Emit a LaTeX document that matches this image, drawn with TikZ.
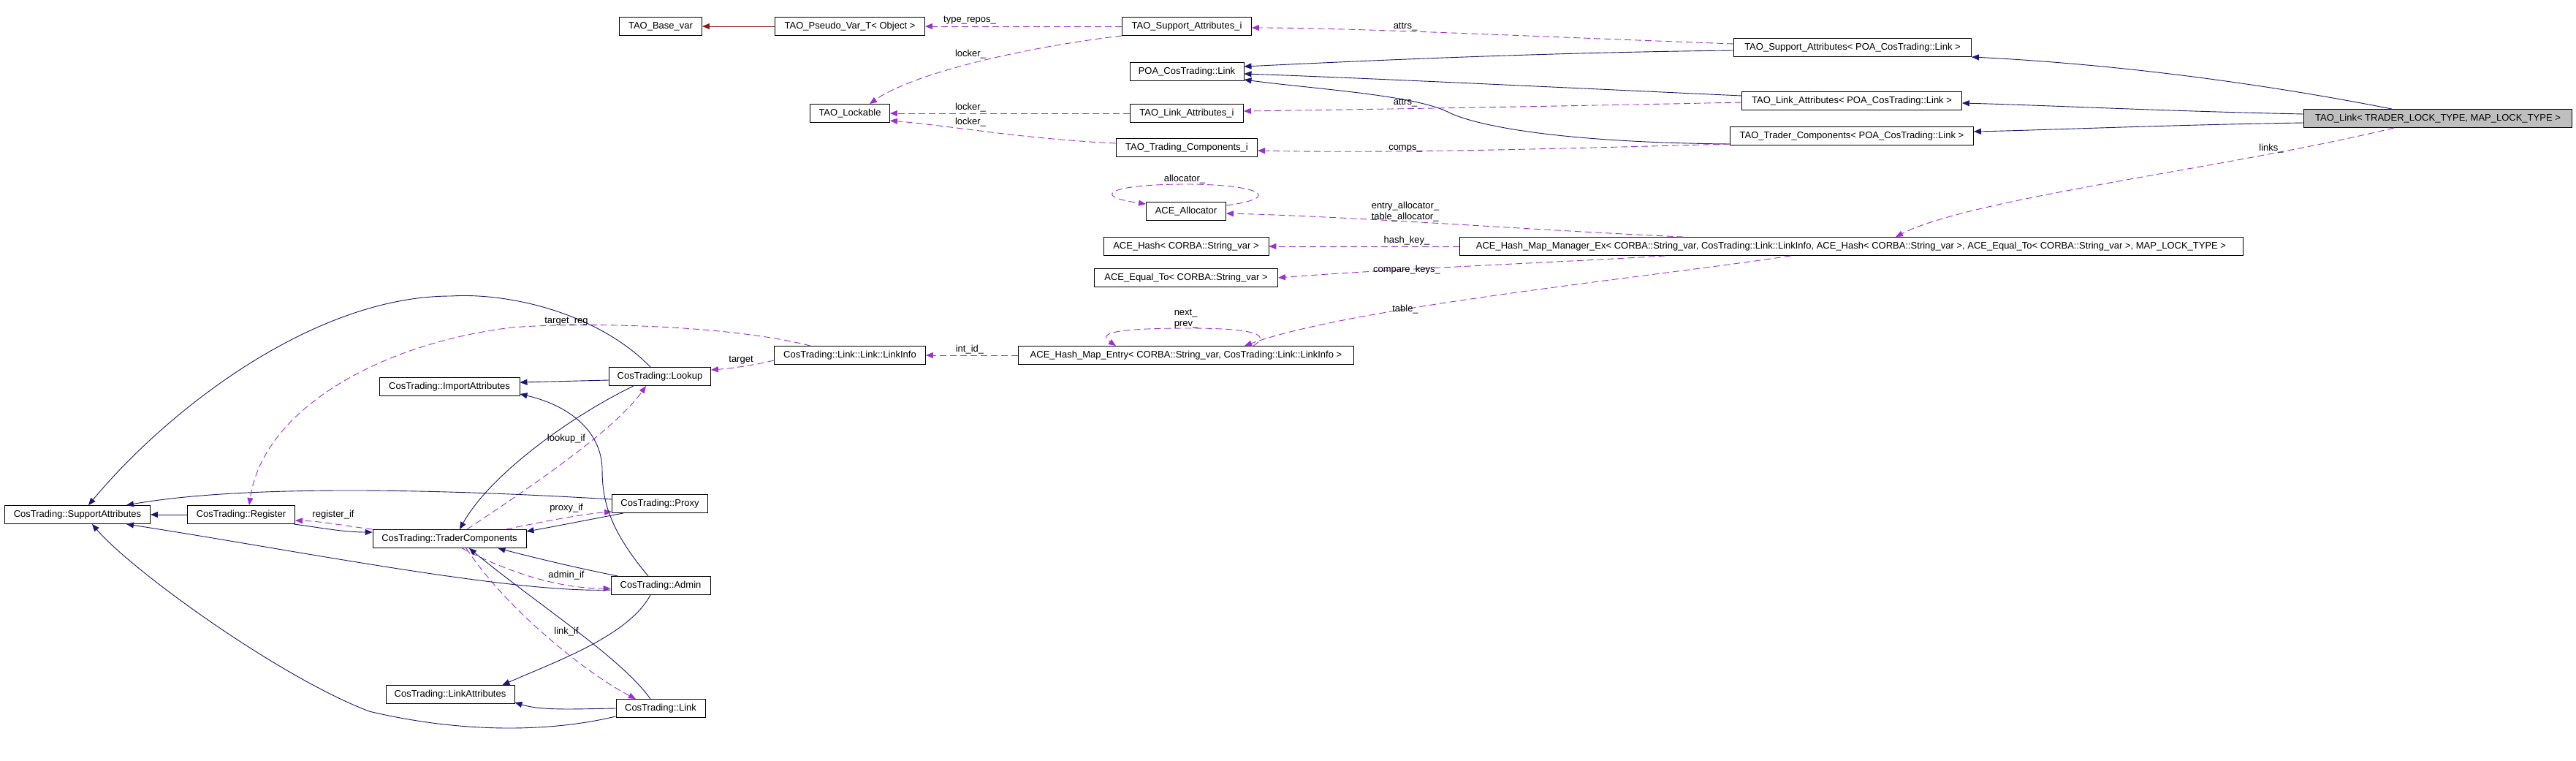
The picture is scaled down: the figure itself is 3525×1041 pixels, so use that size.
\documentclass[tikz,border=0pt]{standalone}
\usepackage{fontspec}
\setmainfont{Liberation Sans}
\usepackage{xcolor}
\usepackage{tikz}
\usetikzlibrary{arrows.meta, calc}

\definecolor{inhblue}{HTML}{191970}
\definecolor{usepurple}{HTML}{9A32CD}
\definecolor{privred}{HTML}{8B1A1A}
\definecolor{boxgray}{HTML}{BFBFBF}

\tikzset{
  cls/.style={draw=black, line width=0.9pt, inner xsep=0pt, inner ysep=0pt,
    minimum height=25pt, font=\fontsize{13}{15}\selectfont},
  inh/.style={inhblue, line width=0.9pt, -{Triangle[length=10pt,width=8pt]}},
  priv/.style={privred, line width=0.9pt, -{Triangle[length=10pt,width=8pt]}},
  use/.style={usepurple, line width=0.9pt, dash pattern=on 9pt off 5pt,
    -{Triangle[length=10pt,width=8pt]}},
  lbl/.style={font=\fontsize{13}{15}\selectfont, inner sep=0pt, align=left}
}

\begin{document}
\begin{tikzpicture}[x=1pt, y=-1pt]
    \fill[white] (0,0) rectangle (3525,1041);
    \useasboundingbox (0,0) rectangle (3525,1041);

    % TAO classes
    \node[cls, minimum width=113pt] (basevar) at (904,36) {TAO\_Base\_var};
    \node[cls, minimum width=205pt] (pseudovar) at (1163,36) {TAO\_Pseudo\_Var\_T< Object >};
    \node[cls, minimum width=177pt] (suppi) at (1624,36) {TAO\_Support\_Attributes\_i};
    \node[cls, minimum width=156pt] (poalink) at (1624,98) {POA\_CosTrading::Link};
    \node[cls, minimum width=109pt] (lockable) at (1163,155) {TAO\_Lockable};
    \node[cls, minimum width=155pt] (linki) at (1624,155) {TAO\_Link\_Attributes\_i};
    \node[cls, minimum width=193pt] (compi) at (1624,202) {TAO\_Trading\_Components\_i};
    \node[cls, minimum width=325pt] (suppt) at (2535,65) {TAO\_Support\_Attributes< POA\_CosTrading::Link >};
    \node[cls, minimum width=301pt] (linkt) at (2534,138) {TAO\_Link\_Attributes< POA\_CosTrading::Link >};
    \node[cls, minimum width=333pt] (compt) at (2534,186) {TAO\_Trader\_Components< POA\_CosTrading::Link >};
    \node[cls, fill=boxgray, minimum width=367pt] (taolink) at (3336,162) {TAO\_Link< TRADER\_LOCK\_TYPE, MAP\_LOCK\_TYPE >};

    % ACE classes
    \node[cls, minimum width=109pt] (alloc) at (1623,289) {ACE\_Allocator};
    \node[cls, minimum width=226pt] (hash) at (1623,337) {ACE\_Hash< CORBA::String\_var >};
    \node[cls, minimum width=251pt] (equal) at (1623,380) {ACE\_Equal\_To< CORBA::String\_var >};
    \node[cls, minimum width=459pt] (entry) at (1623,486) {ACE\_Hash\_Map\_Entry< CORBA::String\_var, CosTrading::Link::LinkInfo >};
    \node[cls, minimum width=1072pt] (hashmap) at (2533,337) {ACE\_Hash\_Map\_Manager\_Ex< CORBA::String\_var, CosTrading::Link::LinkInfo, ACE\_Hash< CORBA::String\_var >, ACE\_Equal\_To< CORBA::String\_var >, MAP\_LOCK\_TYPE >};

    % CosTrading classes
    \node[cls, minimum width=207pt] (linkinfo) at (1163,486) {CosTrading::Link::Link::LinkInfo};
    \node[cls, minimum width=139pt] (lookup) at (903,515) {CosTrading::Lookup};
    \node[cls, minimum width=131pt] (proxy) at (903,689) {CosTrading::Proxy};
    \node[cls, minimum width=136pt] (admin) at (904,801) {CosTrading::Admin};
    \node[cls, minimum width=122pt] (link) at (904,969) {CosTrading::Link};
    \node[cls, minimum width=192pt] (import) at (615,529) {CosTrading::ImportAttributes};
    \node[cls, minimum width=199pt] (support) at (106,704) {CosTrading::SupportAttributes};
    \node[cls, minimum width=147pt] (register) at (330,704) {CosTrading::Register};
    \node[cls, minimum width=210pt] (trader) at (615,737) {CosTrading::TraderComponents};
    \node[cls, minimum width=176pt] (linkattr) at (616,950) {CosTrading::LinkAttributes};

    % inheritance, top part
    \draw[priv] (pseudovar.west) -- (basevar.east);
    \draw[inh] ($(suppt.west)+(0,4)$) .. controls (2100,72) and (1850,84) .. ($(poalink.east)+(0,-7)$);
    \draw[inh] ($(linkt.west)+(0,-7)$) .. controls (2100,118) and (1850,106) .. ($(poalink.east)+(0,3)$);
    \draw[inh] ($(compt.west)+(0,11)$) .. controls (2150,195) and (2030,175) .. (1985,155) .. controls (1940,130) and (1800,122) .. ($(poalink.east)+(0,11)$);
    \draw[inh] ($(taolink.north)+(-63,0)$) .. controls (3100,115) and (2900,88) .. (suppt.south east);
    \draw[inh] ($(taolink.west)+(0,-6)$) .. controls (2960,152) and (2800,144) .. ($(linkt.east)+(0,3)$);
    \draw[inh] ($(taolink.west)+(0,6)$) .. controls (2960,171) and (2800,178) .. ($(compt.east)+(0,-6)$);

    % members, top part
    \draw[use] (suppi.west) -- (pseudovar.east);
    \draw[use] (suppi.south west) .. controls (1400,65) and (1250,100) .. ($(lockable.north)+(27,0)$);
    \draw[use] (linki.west) -- (lockable.east);
    \draw[use] ($(compi.west)+(0,-6)$) .. controls (1400,190) and (1300,172) .. ($(lockable.east)+(0,10)$);
    \draw[use] ($(suppt.west)+(0,-5)$) .. controls (2100,50) and (1850,38) .. ($(suppi.east)+(0,2)$);
    \draw[use] ($(linkt.west)+(0,2)$) .. controls (2100,146) and (1850,150) .. ($(linki.east)+(0,-3)$);
    \draw[use] ($(compt.west)+(0,11)$) .. controls (2150,203) and (1900,210) .. ($(compi.east)+(0,4)$);
    \draw[use] ($(taolink.south)+(-60,0)$) .. controls (3050,230) and (2700,270) .. ($(hashmap.north)+(61,0)$);

    % members of the hash map
    \draw[use] ($(hashmap.north west)+(307,0)$) .. controls (2100,315) and (1850,296) .. ($(alloc.east)+(0,3)$);
    \draw[use] ($(alloc.north east)+(0,5)$) .. controls (1760,270) and (1720,252) .. (1623,252) .. controls (1520,252) and (1490,268) .. ($(alloc.north west)+(0,3)$);
    \draw[use] (hashmap.west) -- (hash.east);
    \draw[use] ($(hashmap.south west)+(282,0)$) .. controls (2150,358) and (1900,368) .. (equal.east);
    \draw[use] ($(hashmap.south west)+(454,0)$) .. controls (2250,380) and (1850,420) .. ($(entry.north)+(80,0)$);
    \draw[use] ($(entry.north)+(92,0)$) .. controls (1745,455) and (1700,449) .. (1628,449) .. controls (1530,449) and (1500,455) .. ($(entry.north)+(-96,0)$);
    \draw[use] (entry.west) -- (linkinfo.east);
    \draw[use] ($(linkinfo.west)+(0,7)$) .. controls (1030,500) and (1000,504) .. ($(lookup.east)+(0,-9)$);
    \draw[use] ($(linkinfo.north)+(-54,0)$) .. controls (1000,445) and (800,440) .. (700,448) .. controls (520,470) and (360,560) .. ($(register.north)+(11,0)$);

    % members of the trader components
    \draw[use] ($(trader.north)+(24,0)$) .. controls (720,670) and (840,590) .. ($(lookup.south)+(-19,0)$);
    \draw[use] ($(trader.north east)+(-28,0)$) .. controls (750,712) and (800,703) .. ($(proxy.south west)+(0,-2)$);
    \draw[use] (trader.north west) .. controls (470,719) and (440,713) .. ($(register.east)+(0,8)$);
    \draw[use] ($(trader.south)+(17,0)$) .. controls (690,780) and (760,805) .. ($(admin.west)+(0,4)$);
    \draw[use] ($(trader.south)+(23,0)$) .. controls (690,830) and (800,920) .. ($(link.north)+(-34,0)$);

    % inheritance, CosTrading part
    \draw[inh] ($(lookup.west)+(0,5)$) -- ($(import.east)+(0,-6)$);
    \draw[inh] ($(lookup.north)+(-13,0)$) .. controls (820,430) and (700,400) .. (617,405) .. controls (430,405) and (230,560) .. ($(support.north)+(15,0)$);
    \draw[inh] ($(lookup.south)+(-36,0)$) .. controls (780,570) and (670,650) .. ($(trader.north)+(14,0)$);
    \draw[inh] ($(proxy.west)+(0,-6)$) .. controls (650,672) and (350,660) .. ($(support.north east)+(-33,0)$);
    \draw[inh] ($(proxy.south west)+(16,0)$) .. controls (800,712) and (760,720) .. ($(trader.east)+(0,-10)$);
    \draw[inh] (register.west) -- (support.east);
    \draw[inh] ($(register.south east)+(-2,0)$) .. controls (440,722) and (470,728) .. ($(trader.west)+(0,-9)$);
    \draw[inh] ($(admin.west)+(0,6)$) .. controls (700,812) and (400,752) .. ($(support.south east)+(-33,0)$);
    \draw[inh] ($(admin.north west)+(10,0)$) .. controls (780,775) and (720,760) .. ($(trader.south east)+(-39,0)$);
    \draw[inh] ($(admin.north)+(-17,0)$) .. controls (830,720) and (824,680) .. (824,640) .. controls (822,590) and (780,555) .. ($(import.south east)+(0,-3)$);
    \draw[inh] ($(admin.south)+(-14,0)$) .. controls (860,870) and (760,905) .. ($(linkattr.north east)+(-17,0)$);
    \draw[inh] (link.west) .. controls (780,970) and (740,972) .. ($(linkattr.south east)+(0,-2)$);
    \draw[inh] ($(link.south west)+(0,-2)$) .. controls (760,1000) and (640,1005) .. (505,973) .. controls (380,925) and (180,780) .. ($(support.south)+(20,0)$);
    \draw[inh] ($(link.north)+(-14,0)$) .. controls (850,900) and (740,830) .. ($(trader.south)+(27,0)$);

    % member labels
    \node[lbl] (l-typerepos) at (1327,28) {type\_repos\_};
    \node[lbl] (l-locker1) at (1328,74) {locker\_};
    \node[lbl] (l-locker2) at (1328,147) {locker\_};
    \node[lbl] (l-locker3) at (1328,167) {locker\_};
    \node[lbl] (l-attrs1) at (1923,37) {attrs\_};
    \node[lbl] (l-attrs2) at (1923,141) {attrs\_};
    \node[lbl] (l-comps) at (1923,203) {comps\_};
    \node[lbl] (l-links) at (3108,203) {links\_};
    \node[lbl] (l-allocator) at (1621,245) {allocator\_};
    \node[lbl] (l-allocs) at (1923,290) {entry\_allocator\_\\table\_allocator\_};
    \node[lbl] (l-hashkey) at (1925,329) {hash\_key\_};
    \node[lbl] (l-compare) at (1925,369) {compare\_keys\_};
    \node[lbl] (l-table) at (1923,423) {table\_};
    \node[lbl] (l-nextprev) at (1623,436) {next\_\\prev\_};
    \node[lbl] (l-intid) at (1327,478) {int\_id\_};
    \node[lbl] (l-target) at (1014,493) {target};
    \node[lbl] (l-targetreg) at (775,440) {target\_reg};
    \node[lbl] (l-lookupif) at (775,600) {lookup\_if};
    \node[lbl] (l-proxyif) at (775,695) {proxy\_if};
    \node[lbl] (l-registerif) at (456,704) {register\_if};
    \node[lbl] (l-adminif) at (775,787) {admin\_if};
    \node[lbl] (l-linkif) at (775,864) {link\_if};
\end{tikzpicture}
\end{document}
